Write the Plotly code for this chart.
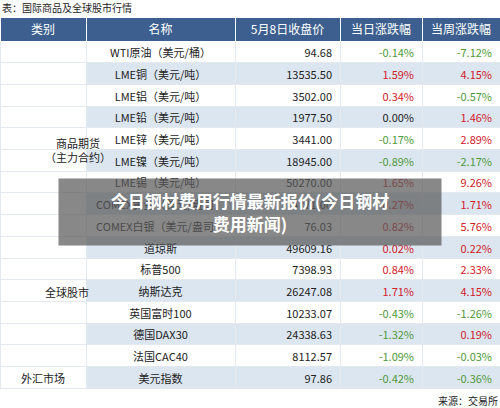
import plotly.graph_objects as go

header = ['类别', '名称', '5月8日收盘价', '当日涨跌幅', '当周涨跌幅']
names = ['WTI原油（美元/桶）', 'LME铜（美元/吨）', 'LME铝（美元/吨）', 'LME铅（美元/吨）',
         'LME锌（美元/吨）', 'LME镍（美元/吨）', 'LME锡（美元/吨）',
         'COMEX黄金（美元/盎司）', 'COMEX白银（美元/盎司）',
         '道琼斯', '标普500', '纳斯达克', '英国富时100', '德国DAX30', '法国CAC40', '美元指数']
close = ['94.68', '13535.50', '3502.00', '1977.50', '3441.00', '18945.00', '50270.00',
         '4771.00', '76.03', '49609.16', '7398.93', '26247.08', '10233.07', '24338.63',
         '8112.57', '97.86']
day_chg = [-0.14, 1.59, 0.34, 0.00, -0.17, -0.89, 1.65, 0.27, 0.82,
           0.02, 0.84, 1.71, -0.43, -1.32, -1.09, -0.42]
week_chg = [-7.12, 4.15, -0.57, 1.46, 2.89, -2.17, 9.26, 1.71, 5.76,
            0.22, 2.33, 4.15, -1.26, 0.19, -0.03, -0.36]
category = [''] * 15 + ['外汇市场']

RED, GREEN, BLACK = '#d0202a', '#4f9a3b', '#222222'
FONT = 'Noto Sans CJK SC'

def col(v):
    return RED if v > 0 else GREEN if v < 0 else BLACK

n = len(names)
band = ['white' if i % 2 == 0 else '#dce6f1' for i in range(n)]

fig = go.Figure(go.Table(
    columnwidth=[86, 149, 105, 82, 78],
    header=dict(values=header, fill_color='#3c5f8f', height=24,
                line=dict(color='white', width=1),
                font=dict(color='white', size=12, family=FONT),
                align='center'),
    cells=dict(values=[category, names, close,
                       [f'{v:.2f}%' for v in day_chg],
                       [f'{v:.2f}%' for v in week_chg]],
               fill_color=[['white'] * n, band, band, band, band],
               line=dict(color='#e4e9f0', width=1),
               font=dict(size=11, family=FONT,
                         color=[[BLACK] * n, [BLACK] * n, [BLACK] * n,
                                [col(v) for v in day_chg], [col(v) for v in week_chg]]),
               align=['center', 'center', 'right', 'right', 'right'],
               height=21.7),
    domain=dict(x=[0, 1], y=[0, 1])
))

fig.add_annotation(text='商品期货<br>（主力合约）', xref='paper', yref='paper', x=0.086, y=0.69,
                   showarrow=False, align='center',
                   font=dict(size=11, color=BLACK, family=FONT))
fig.add_annotation(text='全球股市', xref='paper', yref='paper', x=0.086, y=0.236,
                   showarrow=False, font=dict(size=11, color=BLACK, family=FONT))
fig.add_annotation(text='表：国际商品及全球股市行情', xref='paper', yref='paper', x=0, y=1,
                   xanchor='left', yanchor='bottom', yshift=0, showarrow=False,
                   font=dict(size=10, color=BLACK, family=FONT))
fig.add_annotation(text='来源：交易所', xref='paper', yref='paper', x=1, y=0,
                   xanchor='right', yanchor='top', yshift=-1, showarrow=False,
                   font=dict(size=10, color=BLACK, family=FONT))
fig.add_annotation(text='<b>今日钢材费用行情最新报价(今日钢材<br>费用新闻)</b>',
                   xref='paper', yref='paper', x=0.5, y=0.478, showarrow=False,
                   width=380, height=64, bgcolor='rgba(90,90,90,0.72)',
                   font=dict(size=17, color='white', family=FONT))

fig.update_layout(width=500, height=408, margin=dict(l=0, r=0, t=17, b=18),
                  paper_bgcolor='white')
fig.write_html('out.html', config={'displayModeBar': False},
               post_script="document.body.style.margin='0';")
